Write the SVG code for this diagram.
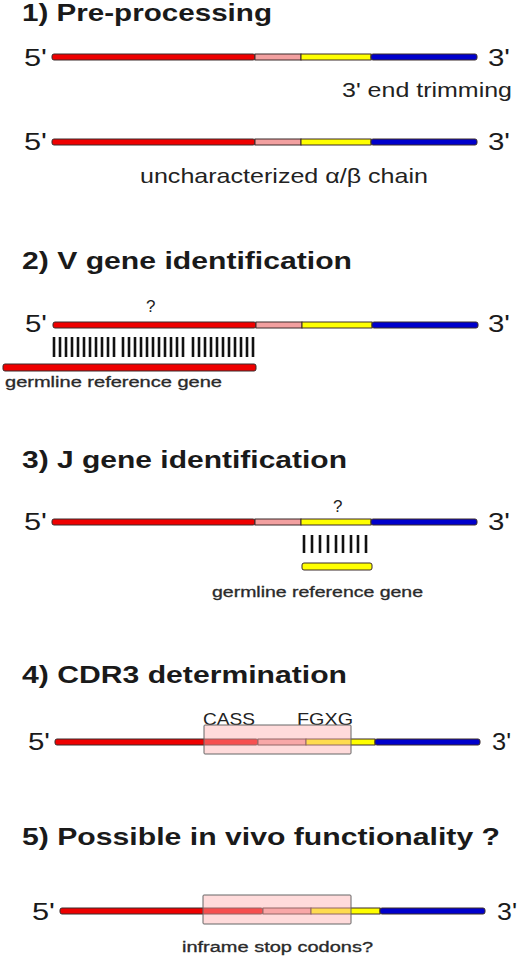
<svg xmlns="http://www.w3.org/2000/svg" width="520" height="962" viewBox="0 0 520 962">
<style>
.title{font-family:"Liberation Sans",Arial,sans-serif;font-weight:bold;font-size:24px;fill:#1a1a1a}
.end{font-family:"Liberation Sans",Arial,sans-serif;font-size:24px;fill:#1a1a1a}
.lbl{font-family:"Liberation Sans",Arial,sans-serif;font-size:21px;fill:#222}
.small{font-family:"Liberation Sans",Arial,sans-serif;font-size:14px;fill:#2a2a2a;stroke:#2a2a2a;stroke-width:0.3}
.q{font-family:"Liberation Sans",Arial,sans-serif;font-size:17px;fill:#222}
.seg{stroke:#3a2a2a;stroke-width:1}
.r{fill:#ee0000}
.p{fill:#f2a0a0}
.y{fill:#ffff00}
.b{fill:#0000cc}
.hatch{stroke:#111;stroke-width:2.6}
.box{fill:#ffb0b0;fill-opacity:0.45;stroke:#666;stroke-width:1}
</style>

<g id="section1">
  <text class="title" x="22" y="21" textLength="250" lengthAdjust="spacingAndGlyphs">1) Pre-processing</text>
  <g id="chain1a">
    <text class="end" x="24" y="66" textLength="23" lengthAdjust="spacingAndGlyphs">5'</text>
    <rect class="seg r" x="52" y="54" width="203" height="6" rx="2"/>
    <rect class="seg p" x="255" y="54" width="46" height="6"/>
    <rect class="seg y" x="301" y="54" width="70" height="6"/>
    <rect class="seg b" x="371" y="54" width="106" height="6" rx="2"/>
    <text class="end" x="488" y="66" textLength="22" lengthAdjust="spacingAndGlyphs">3'</text>
  </g>
  <text class="lbl" x="342" y="97" textLength="170" lengthAdjust="spacingAndGlyphs">3' end trimming</text>
  <g id="chain1b">
    <text class="end" x="24" y="150" textLength="23" lengthAdjust="spacingAndGlyphs">5'</text>
    <rect class="seg r" x="52" y="139" width="203" height="6" rx="2"/>
    <rect class="seg p" x="255" y="139" width="46" height="6"/>
    <rect class="seg y" x="301" y="139" width="70" height="6"/>
    <rect class="seg b" x="371" y="139" width="106" height="6" rx="2"/>
    <text class="end" x="488" y="150" textLength="22" lengthAdjust="spacingAndGlyphs">3'</text>
  </g>
  <text class="lbl" x="140" y="183" textLength="288" lengthAdjust="spacingAndGlyphs">uncharacterized α/β chain</text>
</g>

<g id="section2">
  <text class="title" x="22" y="269" textLength="330" lengthAdjust="spacingAndGlyphs">2) V gene identification</text>
  <text class="q" x="146" y="312">?</text>
  <g id="chain2">
    <text class="end" x="25" y="332" textLength="22" lengthAdjust="spacingAndGlyphs">5'</text>
    <rect class="seg r" x="53" y="322" width="203" height="6" rx="2"/>
    <rect class="seg p" x="256" y="322" width="46" height="6"/>
    <rect class="seg y" x="302" y="322" width="70" height="6"/>
    <rect class="seg b" x="372" y="322" width="106" height="6" rx="2"/>
    <text class="end" x="488" y="332" textLength="22" lengthAdjust="spacingAndGlyphs">3'</text>
  </g>
  <g id="match2" class="hatch">
    <line x1="54" y1="337" x2="54" y2="357"/><line x1="60" y1="337" x2="60" y2="357"/><line x1="66" y1="337" x2="66" y2="357"/><line x1="72" y1="337" x2="72" y2="357"/><line x1="78" y1="337" x2="78" y2="357"/><line x1="84" y1="337" x2="84" y2="357"/><line x1="90" y1="337" x2="90" y2="357"/><line x1="96" y1="337" x2="96" y2="357"/><line x1="102" y1="337" x2="102" y2="357"/><line x1="108" y1="337" x2="108" y2="357"/><line x1="114" y1="337" x2="114" y2="357"/>
    <line x1="123" y1="337" x2="123" y2="357"/><line x1="129" y1="337" x2="129" y2="357"/><line x1="135" y1="337" x2="135" y2="357"/><line x1="141" y1="337" x2="141" y2="357"/><line x1="147" y1="337" x2="147" y2="357"/><line x1="153" y1="337" x2="153" y2="357"/><line x1="159" y1="337" x2="159" y2="357"/><line x1="165" y1="337" x2="165" y2="357"/><line x1="171" y1="337" x2="171" y2="357"/><line x1="177" y1="337" x2="177" y2="357"/><line x1="183" y1="337" x2="183" y2="357"/>
    <line x1="193" y1="337" x2="193" y2="357"/><line x1="199" y1="337" x2="199" y2="357"/><line x1="205" y1="337" x2="205" y2="357"/><line x1="211" y1="337" x2="211" y2="357"/><line x1="217" y1="337" x2="217" y2="357"/><line x1="223" y1="337" x2="223" y2="357"/><line x1="229" y1="337" x2="229" y2="357"/><line x1="235" y1="337" x2="235" y2="357"/><line x1="241" y1="337" x2="241" y2="357"/><line x1="247" y1="337" x2="247" y2="357"/><line x1="253" y1="337" x2="253" y2="357"/>
  </g>
  <rect id="germline2" class="seg r" x="3" y="364" width="253" height="7" rx="2"/>
  <text class="small" x="5" y="387" textLength="217" lengthAdjust="spacingAndGlyphs">germline reference gene</text>
</g>

<g id="section3">
  <text class="title" x="22" y="468" textLength="325" lengthAdjust="spacingAndGlyphs">3) J gene identification</text>
  <text class="q" x="333" y="512">?</text>
  <g id="chain3">
    <text class="end" x="24" y="530" textLength="23" lengthAdjust="spacingAndGlyphs">5'</text>
    <rect class="seg r" x="52" y="519" width="203" height="6" rx="2"/>
    <rect class="seg p" x="255" y="519" width="46" height="6"/>
    <rect class="seg y" x="301" y="519" width="70" height="6"/>
    <rect class="seg b" x="371" y="519" width="106" height="6" rx="2"/>
    <text class="end" x="488" y="530" textLength="22" lengthAdjust="spacingAndGlyphs">3'</text>
  </g>
  <g id="match3" class="hatch">
    <line x1="304" y1="535" x2="304" y2="553"/><line x1="312" y1="535" x2="312" y2="553"/><line x1="320" y1="535" x2="320" y2="553"/><line x1="328" y1="535" x2="328" y2="553"/><line x1="336" y1="535" x2="336" y2="553"/><line x1="343" y1="535" x2="343" y2="553"/><line x1="351" y1="535" x2="351" y2="553"/><line x1="358" y1="535" x2="358" y2="553"/><line x1="366" y1="535" x2="366" y2="553"/>
  </g>
  <rect id="germline3" class="seg y" x="302" y="563" width="70" height="7" rx="2"/>
  <text class="small" x="212" y="597" textLength="211" lengthAdjust="spacingAndGlyphs">germline reference gene</text>
</g>

<g id="section4">
  <text class="title" x="22" y="683" textLength="325" lengthAdjust="spacingAndGlyphs">4) CDR3 determination</text>
  <text class="q" x="203" y="725" textLength="52" lengthAdjust="spacingAndGlyphs">CASS</text>
  <text class="q" x="297" y="725" textLength="56" lengthAdjust="spacingAndGlyphs">FGXG</text>
  <g id="chain4">
    <text class="end" x="28" y="750" textLength="22" lengthAdjust="spacingAndGlyphs">5'</text>
    <rect class="seg r" x="55" y="739" width="203" height="6" rx="2"/>
    <rect class="seg p" x="258" y="739" width="48" height="6"/>
    <rect class="seg y" x="306" y="739" width="69" height="6"/>
    <rect class="seg b" x="375" y="739" width="105" height="6" rx="2"/>
    <text class="end" x="492" y="750" textLength="19" lengthAdjust="spacingAndGlyphs">3'</text>
  </g>
  <rect id="cdr3box4" class="box" x="204" y="725" width="147" height="29" rx="1"/>
</g>

<g id="section5">
  <text class="title" x="22" y="845" textLength="478" lengthAdjust="spacingAndGlyphs">5) Possible in vivo functionality ?</text>
  <g id="chain5">
    <text class="end" x="32" y="920" textLength="23" lengthAdjust="spacingAndGlyphs">5'</text>
    <rect class="seg r" x="60" y="908" width="203" height="6" rx="2"/>
    <rect class="seg p" x="263" y="908" width="48" height="6"/>
    <rect class="seg y" x="311" y="908" width="69" height="6"/>
    <rect class="seg b" x="380" y="908" width="105" height="6" rx="2"/>
    <text class="end" x="497" y="920" textLength="20" lengthAdjust="spacingAndGlyphs">3'</text>
  </g>
  <rect id="cdr3box5" class="box" x="203" y="895" width="148" height="29" rx="1"/>
  <text class="small" x="182" y="952" textLength="191" lengthAdjust="spacingAndGlyphs">inframe stop codons?</text>
</g>
</svg>
